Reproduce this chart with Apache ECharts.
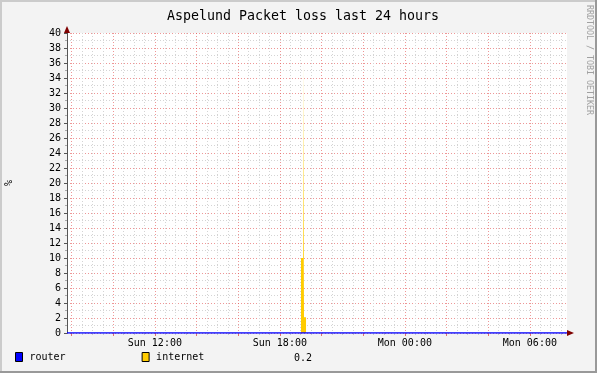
<!DOCTYPE html>
<html>
<head>
<meta charset="utf-8">
<script src="https://cdn.jsdelivr.net/npm/echarts@6/dist/echarts.min.js"></script>
<style>
html,body{margin:0;padding:0;background:#F3F3F3;}
#main{width:597px;height:373px;}
</style>
</head>
<body>
<div id="main"></div>
<script>
// ---- data (minutes since Sunday 00:00) ----
const titleText = 'Aspelund Packet loss last 24 hours';
const xStart = 467;   // ~07:47 Sunday
const xEnd = 1907;    // ~07:47 Monday
const labelTimes = [720, 1080, 1440, 1800];
const labelTexts = ['Sun 12:00', 'Sun 18:00', 'Mon 00:00', 'Mon 06:00'];
const majorGridTimes = [480, 600, 720, 840, 960, 1080, 1200, 1320, 1440, 1560, 1680, 1800];
const minorStep = 30;
const yMin = 0, yMax = 40, yStep = 2;

const seriesNames = ['router', 'internet'];
const routerTimes = [467, 1907];
const routerValues = [0, 0];
const internetTimes = [467, 1140.9, 1146.7, 1149.6, 1155.4, 1907];
const internetValues = [0, 10, 36.3, 2.1, 0, 0];
const internetLegendValue = '0.2';
const credit = 'RRDTOOL / TOBI OETIKER';

const minorGridTimes = [];
for (let t = 480; t < xEnd; t += minorStep) {
  if (majorGridTimes.indexOf(t) < 0) minorGridTimes.push(t);
}

const FONT = 'DejaVu Sans Mono';
const colRouter = '#0000FF';
const colInternet = '#FFCC00';
const majorColor = '#E25050';
const minorColor = '#D4D4D4';

const chart = echarts.init(document.getElementById('main'), null, {renderer: 'canvas'});

const G = {left: 67, top: 33, width: 500, height: 300};

chart.setOption({
  animation: false,
  backgroundColor: '#F3F3F3',
  textStyle: {fontFamily: FONT},
  title: {
    text: titleText,
    left: 298, top: 5, textAlign: 'center',
    textStyle: {fontFamily: FONT, fontSize: 13.3, fontWeight: 'normal', color: '#000'}
  },
  legend: {
    data: seriesNames,
    left: 15, top: 352, padding: 0,
    itemWidth: 7, itemHeight: 9, itemGap: 76,
    icon: 'rect',
    textStyle: {fontFamily: FONT, fontSize: 10, color: '#000', padding: [3, 0, 0, 2]},
    itemStyle: {borderColor: '#000', borderWidth: 1},
    selectedMode: false
  },
  grid: Object.assign({show: true, backgroundColor: '#FFFFFF', borderWidth: 0, containLabel: false, outerBoundsMode: 'none'}, G),
  xAxis: [
    {
      type: 'value', min: xStart, max: xEnd,
      axisLine: {show: false},
      axisTick: {show: true, customValues: minorGridTimes, length: 2, lineStyle: {color: '#c8c8c8'}},
      axisLabel: {show: false},
      splitLine: {show: true, lineStyle: {color: minorColor, type: [1, 2], width: 1, opacity: 1}}
    },
    {
      type: 'value', min: xStart, max: xEnd, position: 'bottom',
      axisLine: {show: false},
      axisTick: {show: true, customValues: majorGridTimes, length: 3, lineStyle: {color: '#e07070'}},
      axisLabel: {
        show: true, customValues: labelTimes, margin: 5,
        fontFamily: FONT, fontSize: 10, color: '#000',
        formatter: v => { const i = labelTimes.indexOf(v); return i >= 0 ? labelTexts[i] : ''; }
      },
      splitLine: {show: true, lineStyle: {color: majorColor, type: [1, 2], width: 1, opacity: 0.6}}
    }
  ],
  yAxis: {
    type: 'value', min: yMin, max: yMax, interval: yStep,
    name: '%', nameLocation: 'middle', nameGap: 53, nameRotate: 90,
    nameTextStyle: {fontFamily: FONT, fontSize: 10, color: '#000'},
    axisLine: {show: true, lineStyle: {color: '#555555', width: 1}},
    axisTick: {show: true, length: 3, lineStyle: {color: '#555555'}},
    minorTick: {show: true, splitNumber: 2, length: 2, lineStyle: {color: '#aaa'}},
    axisLabel: {fontFamily: FONT, fontSize: 10, color: '#000', margin: 6},
    splitLine: {show: true, lineStyle: {color: majorColor, type: [1, 2], width: 1, opacity: 0.6}},
    minorSplitLine: {show: true, lineStyle: {color: minorColor, type: [1, 2], width: 1, opacity: 1}}
  },
  series: [
    {
      name: 'internet', type: 'line', xAxisIndex: 1, step: 'end',
      data: internetTimes.map((t, i) => [t, internetValues[i]]),
      showSymbol: false, symbol: 'none',
      lineStyle: {width: 0, color: colInternet},
      itemStyle: {color: colInternet},
      areaStyle: {color: colInternet, opacity: 1},
      z: 3
    },
    {
      name: 'router', type: 'line', xAxisIndex: 1,
      data: routerTimes.map((t, i) => [t, routerValues[i]]),
      showSymbol: false, symbol: 'none',
      lineStyle: {width: 1.5, color: colRouter},
      itemStyle: {color: colRouter},
      z: 4
    }
  ],
  graphic: [
    // 3D frame
    {type: 'rect', shape: {x: 0, y: 0, width: 597, height: 2}, style: {fill: '#CBCBCB'}, silent: true},
    {type: 'rect', shape: {x: 0, y: 0, width: 2, height: 373}, style: {fill: '#CBCBCB'}, silent: true},
    {type: 'rect', shape: {x: 0, y: 371, width: 597, height: 2}, style: {fill: '#999999'}, silent: true},
    {type: 'rect', shape: {x: 595, y: 0, width: 2, height: 373}, style: {fill: '#999999'}, silent: true},
    // axis arrows
    {type: 'polygon', shape: {points: [[64, 33], [70, 33], [67, 26]]}, style: {fill: '#7F0000'}, silent: true, z: 10},
    {type: 'polygon', shape: {points: [[567, 330], [567, 336], [574, 333]]}, style: {fill: '#7F0000'}, silent: true, z: 10},
    // legend value
    {type: 'text', x: 294, y: 358.5, style: {text: internetLegendValue, font: '10px "DejaVu Sans Mono"', fill: '#000', textVerticalAlign: 'middle'}, silent: true},
    // credit
    {type: 'text', x: 593, y: 5, rotation: -Math.PI / 2,
     style: {text: credit, font: '8.3px "DejaVu Sans Mono"', fill: '#A0A0A0', textAlign: 'left', textVerticalAlign: 'top'}, silent: true}
  ]
});
</script>
</body>
</html>
